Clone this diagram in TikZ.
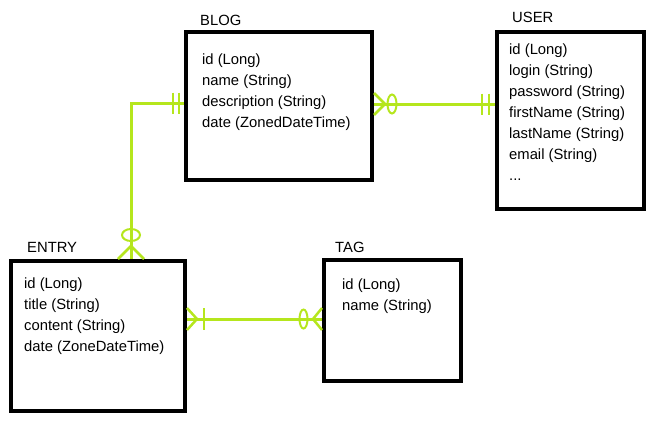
\documentclass[tikz,border=0pt]{standalone}
\usepackage{fontspec}
\setmainfont{Liberation Sans}
\definecolor{relgreen}{RGB}{181,230,29}

\begin{document}
\begin{tikzpicture}[x = 1pt, y = -1pt]
\tikzstyle{EntityStyle} = [draw, line width = 4pt, shape = rectangle, anchor = north west, inner sep = 0pt]
\tikzstyle{TitleStyle} = [anchor = base west, inner sep = 0pt, font = \fontsize{14.8}{21}\selectfont]
\tikzstyle{FieldStyle} = [anchor = base west, inner sep = 0pt, align = left, font = \fontsize{14.8}{21}\selectfont]
\tikzstyle{EdgeStyle} = [draw = relgreen, line width = 3pt]
\tikzstyle{MarkStyle} = [draw = relgreen, line width = 2.5pt]
\tikzstyle{RingStyle} = [draw = relgreen, line width = 2pt]
\useasboundingbox (0,0) rectangle (655,424);
% entities
\node[EntityStyle, minimum width = 186pt, minimum height = 148pt] (blog) at (184,30) {};
\node[EntityStyle, minimum width = 147pt, minimum height = 177pt] (user) at (495,30) {};
\node[EntityStyle, minimum width = 174pt, minimum height = 150pt] (entry) at (9,259) {};
\node[EntityStyle, minimum width = 137pt, minimum height = 121pt] (tag) at (322,258) {};
\node[TitleStyle] (blogtitle) at (200,25) {BLOG};
\node[TitleStyle] (usertitle) at (512,22) {USER};
\node[TitleStyle] (entrytitle) at (27,252) {ENTRY};
\node[TitleStyle] (tagtitle) at (335,252) {TAG};
% fields (placed by the baseline of their last line)
\node[FieldStyle] (blogfields) at (202,127) {id (Long)\\name (String)\\description (String)\\date (ZonedDateTime)};
\node[FieldStyle] (userfields) at (509,180) {id (Long)\\login (String)\\password (String)\\firstName (String)\\lastName (String)\\email (String)\\...};
\node[FieldStyle] (entryfields) at (24,351) {id (Long)\\title (String)\\content (String)\\date (ZoneDateTime)};
\node[FieldStyle] (tagfields) at (342,310) {id (Long)\\name (String)};
% relation ends
\coordinate (bw) at ([yshift = 3pt]blog.west);
\coordinate (en) at ([xshift = 122pt]entry.north west);
\coordinate (be) at ([yshift = 2pt]blog.east);
\coordinate (uw) at ([yshift = 16.5pt]user.west);
\coordinate (ee) at ([yshift = 17pt]entry.east);
\coordinate (tw) at ([yshift = 1.5pt]tag.west);
% relations
\draw[EdgeStyle] (bw) -| (en);
\draw[EdgeStyle] (be) -- (uw);
\draw[EdgeStyle] (ee) -- (tw);
% blog -- entry
\draw[MarkStyle] ([xshift = -11pt]bw) ++(0,-10.5) -- ++(0,21);
\draw[MarkStyle] ([xshift = -5pt]bw) ++(0,-10.5) -- ++(0,21);
\draw[MarkStyle] ([xshift = -13pt]en) -- ++(13,-13) -- ++(13,13);
\draw[RingStyle] (en) ++(0,-24) ellipse [x radius = 9pt, y radius = 6pt];
% blog -- user
\draw[MarkStyle] ([yshift = 11pt]be) -- ++(11,11) -- ++(-11,11);
\draw[RingStyle] (be) ++(18,0) ellipse [x radius = 4.5pt, y radius = 9.5pt];
\draw[MarkStyle] ([xshift = -13pt]uw) ++(0,-10.5) -- ++(0,21);
\draw[MarkStyle] ([xshift = -6pt]uw) ++(0,-10.5) -- ++(0,21);
% entry -- tag
\draw[MarkStyle] ([yshift = 11pt]ee) -- ++(10,11) -- ++(-10,11);
\draw[MarkStyle] ([xshift = 17pt]ee) ++(0,-11) -- ++(0,22);
\draw[MarkStyle] ([yshift = 11pt]tw) -- ++(-9,11) -- ++(9,11);
\draw[RingStyle] (tw) ++(-18.5,0) ellipse [x radius = 4pt, y radius = 9.5pt];
\end{tikzpicture}
\end{document}
